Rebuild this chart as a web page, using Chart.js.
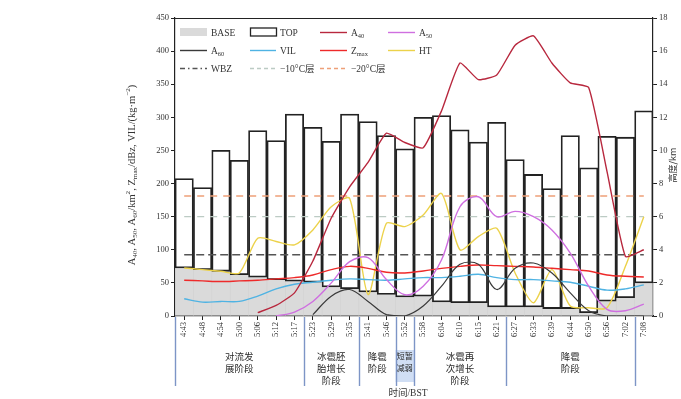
<!DOCTYPE html>
<html>
<head>
<meta charset="utf-8">
<script src="https://cdn.jsdelivr.net/npm/chart.js@4/dist/chart.umd.min.js"></script>
<style>
  html, body { margin: 0; padding: 0; background: #fff; }
  #wrap { width: 681px; height: 399px; position: relative; }
</style>
</head>
<body>
<div id="wrap"><canvas id="c" width="681" height="399"></canvas></div>
<script>
// Volume-scan times (BST)
const times = ['4:43','4:48','4:54','5:00','5:06','5:12','5:17','5:23','5:29','5:35','5:41','5:46','5:52',
               '5:58','6:04','6:10','6:15','6:21','6:27','6:33','6:39','6:44','6:50','6:56','7:02','7:08'];

// Echo base / top heights (km)
const echoBase = [2.9, 2.8, 2.7, 2.5, 2.35, 2.2, 2.1, 2.05, 1.75, 1.65, 1.45, 1.3, 1.15,
                  1.2, 0.85, 0.8, 0.8, 0.55, 0.55, 0.55, 0.45, 0.45, 0.2, 0.9, 1.1, 2.0];
const echoTop  = [8.3, 7.75, 10.0, 9.4, 11.2, 10.6, 12.2, 11.4, 10.55, 12.2, 11.75, 10.9, 10.1,
                  12.0, 12.1, 11.25, 10.5, 11.7, 9.45, 8.55, 7.7, 10.9, 8.95, 10.85, 10.8, 12.4];

// Height of maximum reflectivity (km)
const htMax = [2.9, 2.8, 2.7, 2.6, 4.7, 4.5, 4.3, 5.2, 6.6, 7.1, 1.3, 5.6, 5.4,
               6.1, 7.4, 4.0, 4.8, 5.3, 2.6, 0.8, 2.8, 0.6, 0.5, 0.5, 3.0, 6.0];

// Areas above 40/50/60 dBZ (km^2)
const a40 = [null, null, null, null, 5, 16, 35, 83, 148, 195, 232, 276, 262,
             254, 310, 382, 357, 364, 409, 423, 382, 352, 345, 218, 90, 100];
const a50 = [null, null, null, null, null, 0, 6, 22, 50, 82, 88, 55, 32,
             45, 85, 165, 180, 150, 158, 150, 130, 95, 45, 10, 8, 18];
const a60 = [null, null, null, null, null, null, null, 2, 30, 40, 22, 2, 0,
             15, 45, 78, 78, 40, 72, 80, 65, 35, 8, 0, 0, 0];

// Vertically integrated liquid (kg m^-2) and maximum reflectivity (dBZ)
const vil  = [26, 21, 22, 22, 30, 41, 48, 51, 54, 56, 55, 54, 56,
              58, 58, 60, 63, 58, 55, 55, 53, 51, 45, 39, 41, 47];
const zMax = [54, 53, 52, 53, 54, 56, 58, 62, 70, 75, 72, 66, 65,
              68, 72, 75, 77, 76, 75, 74, 72, 70, 68, 62, 60, 59];

// Sounding levels (km)
const wbz   = [3.7, 3.7, 3.7, 3.7, 3.7, 3.7, 3.7, 3.7, 3.7, 3.7, 3.7, 3.7, 3.7,
               3.7, 3.7, 3.7, 3.7, 3.7, 3.7, 3.7, 3.7, 3.7, 3.7, 3.7, 3.7, 3.7];
const lvl10 = [6.0, 6.0, 6.0, 6.0, 6.0, 6.0, 6.0, 6.0, 6.0, 6.0, 6.0, 6.0, 6.0,
               6.0, 6.0, 6.0, 6.0, 6.0, 6.0, 6.0, 6.0, 6.0, 6.0, 6.0, 6.0, 6.0];
const lvl20 = [7.25, 7.25, 7.25, 7.25, 7.25, 7.25, 7.25, 7.25, 7.25, 7.25, 7.25, 7.25, 7.25,
               7.25, 7.25, 7.25, 7.25, 7.25, 7.25, 7.25, 7.25, 7.25, 7.25, 7.25, 7.25, 7.25];

// Storm stages: [first index, end index, text lines, shaded]
const stages = [
  [0, 7,  ['对流发', '展阶段'], false],
  [7, 10, ['冰雹胚', '胎增长', '阶段'], false],
  [10, 12, ['降雹', '阶段'], false],
  [12, 13, ['短暂', '减弱'], true],
  [13, 18, ['冰雹再', '次增长', '阶段'], false],
  [18, 25, ['降雹', '阶段'], false]
];

const SERIF = '"Liberation Serif", "Times New Roman", "Noto Sans CJK SC", serif';
const CJK = '"Noto Sans CJK SC", sans-serif';

const C = {
  base: 'rgba(205,205,205,0.75)',
  top: '#222',
  a40: '#b8283e',
  a50: '#cf6fe0',
  a60: '#3a3a3a',
  vil: '#4fb3e3',
  zmax: '#ee2a2a',
  ht: '#ecd24a',
  wbz: '#555',
  l10: '#bccbc4',
  l20: '#eea078'
};

function drawRich(ctx, parts, x, y, size, family, align) {
  let w = 0;
  const segs = parts.map(p => {
    const s = p[1] ? size * 0.68 : size;
    ctx.font = s + 'px ' + family;
    const m = ctx.measureText(p[0]).width;
    w += m;
    return { t: p[0], k: p[1], s: s, m: m };
  });
  let cx = align === 'center' ? x - w / 2 : x;
  ctx.textAlign = 'left';
  ctx.textBaseline = 'alphabetic';
  segs.forEach(sg => {
    ctx.font = sg.s + 'px ' + family;
    const dy = sg.k === 'sub' ? size * 0.22 : (sg.k === 'sup' ? -size * 0.4 : 0);
    ctx.fillText(sg.t, cx, y + dy);
    cx += sg.m;
  });
}

const decorPlugin = {
  id: 'decor',
  afterDraw(chart) {
    const ctx = chart.ctx;
    const a = chart.chartArea;
    const w = (a.right - a.left) / times.length;
    ctx.save();

    // frame top line
    ctx.strokeStyle = '#222';
    ctx.lineWidth = 1.2;
    ctx.beginPath();
    ctx.moveTo(a.left, a.top + 0.5);
    ctx.lineTo(a.right, a.top + 0.5);
    ctx.stroke();

    // stage dividers and labels under the time axis
    const yTop = a.bottom + 1, yBot = 386;
    stages.forEach(st => {
      const x0 = a.left + st[0] * w, x1 = a.left + st[1] * w;
      if (st[3]) {
        ctx.fillStyle = 'rgba(170,195,235,0.55)';
        ctx.fillRect(x0, 350, x1 - x0, 32);
      }
    });
    ctx.strokeStyle = '#7d95c6';
    ctx.lineWidth = 1.4;
    [0, 7, 10, 12, 13, 18, 25].forEach(k => {
      const x = Math.round(a.left + k * w) + 0.5;
      ctx.beginPath();
      ctx.moveTo(x, yTop);
      ctx.lineTo(x, yBot);
      ctx.stroke();
    });
    ctx.fillStyle = '#2a2a2a';
    ctx.textAlign = 'center';
    ctx.textBaseline = 'middle';
    stages.forEach(st => {
      const xc = a.left + (st[0] + st[1]) / 2 * w;
      const fs = st[3] ? 8 : 9.5;
      ctx.font = fs + 'px ' + CJK;
      st[2].forEach((line, i) => ctx.fillText(line, xc, 356 + i * 12));
    });

    // x axis title
    ctx.fillStyle = '#333';
    ctx.font = '9.5px ' + SERIF;
    ctx.textAlign = 'center';
    ctx.fillText('时间/BST', 408, 393);

    // left axis title
    ctx.save();
    ctx.translate(131, (a.top + a.bottom) / 2 + 8);
    ctx.rotate(-Math.PI / 2);
    ctx.fillStyle = '#333';
    drawRich(ctx, [['A', ''], ['40', 'sub'], [', A', ''], ['50', 'sub'], [', A', ''], ['60', 'sub'],
                   ['/km', ''], ['2', 'sup'], [', Z', ''], ['max', 'sub'], ['/dBz, VIL/(kg·m', ''],
                   ['−2', 'sup'], [')', '']], 0, 3.5, 10.5, SERIF, 'center');
    ctx.restore();

    // right axis title
    ctx.save();
    ctx.translate(673, (a.top + a.bottom) / 2 - 2);
    ctx.rotate(-Math.PI / 2);
    ctx.fillStyle = '#333';
    ctx.font = '9px ' + CJK;
    ctx.textAlign = 'center';
    ctx.textBaseline = 'middle';
    ctx.fillText('高度/km', 0, 0);
    ctx.restore();

    // legend
    const rows = [32, 50, 68];
    const cols = [[180, 207], [250, 276], [320, 347], [388, 415]];
    const items = [
      [0, 0, 'box', C.base, [['BASE', '']]],
      [0, 1, 'rect', C.top, [['TOP', '']]],
      [0, 2, 'line', C.a40, [['A', ''], ['40', 'sub']]],
      [0, 3, 'line', C.a50, [['A', ''], ['50', 'sub']]],
      [1, 0, 'line', C.a60, [['A', ''], ['60', 'sub']]],
      [1, 1, 'line', C.vil, [['VIL', '']]],
      [1, 2, 'line', C.zmax, [['Z', ''], ['max', 'sub']]],
      [1, 3, 'line', C.ht, [['HT', '']]],
      [2, 0, 'dashdot', C.wbz, [['WBZ', '']]],
      [2, 1, 'dash', C.l10, [['−10°C层', '']]],
      [2, 2, 'dash', C.l20, [['−20°C层', '']]]
    ];
    items.forEach(it => {
      const y = rows[it[0]];
      const c = cols[it[1]];
      ctx.setLineDash([]);
      if (it[2] === 'box') {
        ctx.fillStyle = it[3];
        ctx.fillRect(c[0], y - 4, c[1] - c[0], 8);
      } else if (it[2] === 'rect') {
        ctx.strokeStyle = it[3];
        ctx.lineWidth = 1.3;
        ctx.strokeRect(c[0] + 0.5, y - 4, c[1] - c[0], 8);
      } else {
        ctx.strokeStyle = it[3];
        ctx.lineWidth = 1.4;
        if (it[2] === 'dashdot') ctx.setLineDash([5, 3, 1.5, 3]);
        if (it[2] === 'dash') ctx.setLineDash([4, 3]);
        ctx.beginPath();
        ctx.moveTo(c[0], y + 0.5);
        ctx.lineTo(c[1], y + 0.5);
        ctx.stroke();
      }
      ctx.setLineDash([]);
      ctx.fillStyle = '#333';
      drawRich(ctx, it[4], c[1] + 4, y + 3.5, 9.5, SERIF, 'left');
    });
    ctx.restore();
  }
};

function lineDs(label, data, color, extra) {
  return Object.assign({
    type: 'line', label: label, data: data, yAxisID: 'y',
    borderColor: color, backgroundColor: color, borderWidth: 1.4,
    pointRadius: 0, tension: 0.35, spanGaps: false, order: 1
  }, extra || {});
}

const ctx = document.getElementById('c').getContext('2d');
new Chart(ctx, {
  type: 'bar',
  data: {
    labels: times,
    datasets: [
      { type: 'bar', label: 'BASE', data: echoBase, yAxisID: 'y1',
        backgroundColor: C.base, borderWidth: 0, barPercentage: 1, categoryPercentage: 1,
        grouped: false, order: 20 },
      { type: 'bar', label: 'TOP', data: echoBase.map((b, i) => [b, echoTop[i]]), yAxisID: 'y1',
        backgroundColor: 'rgba(255,255,255,0)', borderColor: C.top, borderWidth: 1.1,
        borderSkipped: false, barPercentage: 1, categoryPercentage: 1, grouped: false, order: 19 },
      lineDs('WBZ', wbz, C.wbz, { yAxisID: 'y1', borderDash: [8, 4], borderWidth: 1.6, tension: 0, order: 9 }),
      lineDs('-10°C层', lvl10, C.l10, { yAxisID: 'y1', borderDash: [7, 6], borderWidth: 1.4, tension: 0, order: 9 }),
      lineDs('-20°C层', lvl20, C.l20, { yAxisID: 'y1', borderDash: [7, 6], borderWidth: 1.4, tension: 0, order: 9 }),
      lineDs('HT', htMax, C.ht, { yAxisID: 'y1', tension: 0.25, order: 5 }),
      lineDs('VIL', vil, C.vil, { order: 4 }),
      lineDs('Zmax', zMax, C.zmax, { order: 3 }),
      lineDs('A60', a60, C.a60, { borderWidth: 1.2, order: 2 }),
      lineDs('A50', a50, C.a50, { order: 2 }),
      lineDs('A40', a40, C.a40, { tension: 0.15, borderWidth: 1.4, order: 1 })
    ]
  },
  options: {
    responsive: false,
    animation: false,
    devicePixelRatio: 1,
    layout: { padding: { top: 18, left: 0, right: 0, bottom: 0 } },
    plugins: { legend: { display: false }, tooltip: { enabled: false } },
    scales: {
      x: {
        offset: true,
        grid: { display: true, drawOnChartArea: false, tickLength: 4, color: '#222', offset: false },
        border: { display: true, color: '#222', width: 1.2 },
        ticks: { autoSkip: false, minRotation: 90, maxRotation: 90, padding: 2,
                 color: '#333', font: { family: SERIF, size: 8.5 } },
        afterFit(s) { s.height = 83; }
      },
      y: {
        position: 'left', min: 0, max: 450,
        grid: { display: true, drawOnChartArea: false, tickLength: 4, color: '#222' },
        border: { display: true, color: '#222', width: 1.2 },
        ticks: { stepSize: 50, padding: 2, color: '#333', font: { family: SERIF, size: 8.5 } },
        afterFit(s) { s.width = 175; }
      },
      y1: {
        position: 'right', min: 0, max: 18,
        grid: { display: true, drawOnChartArea: false, tickLength: 4, color: '#222' },
        border: { display: true, color: '#222', width: 1.2 },
        ticks: { stepSize: 2, padding: 2, color: '#333', font: { family: SERIF, size: 8.5 } },
        afterFit(s) { s.width = 28; }
      }
    }
  },
  plugins: [decorPlugin]
});
</script>
</body>
</html>
